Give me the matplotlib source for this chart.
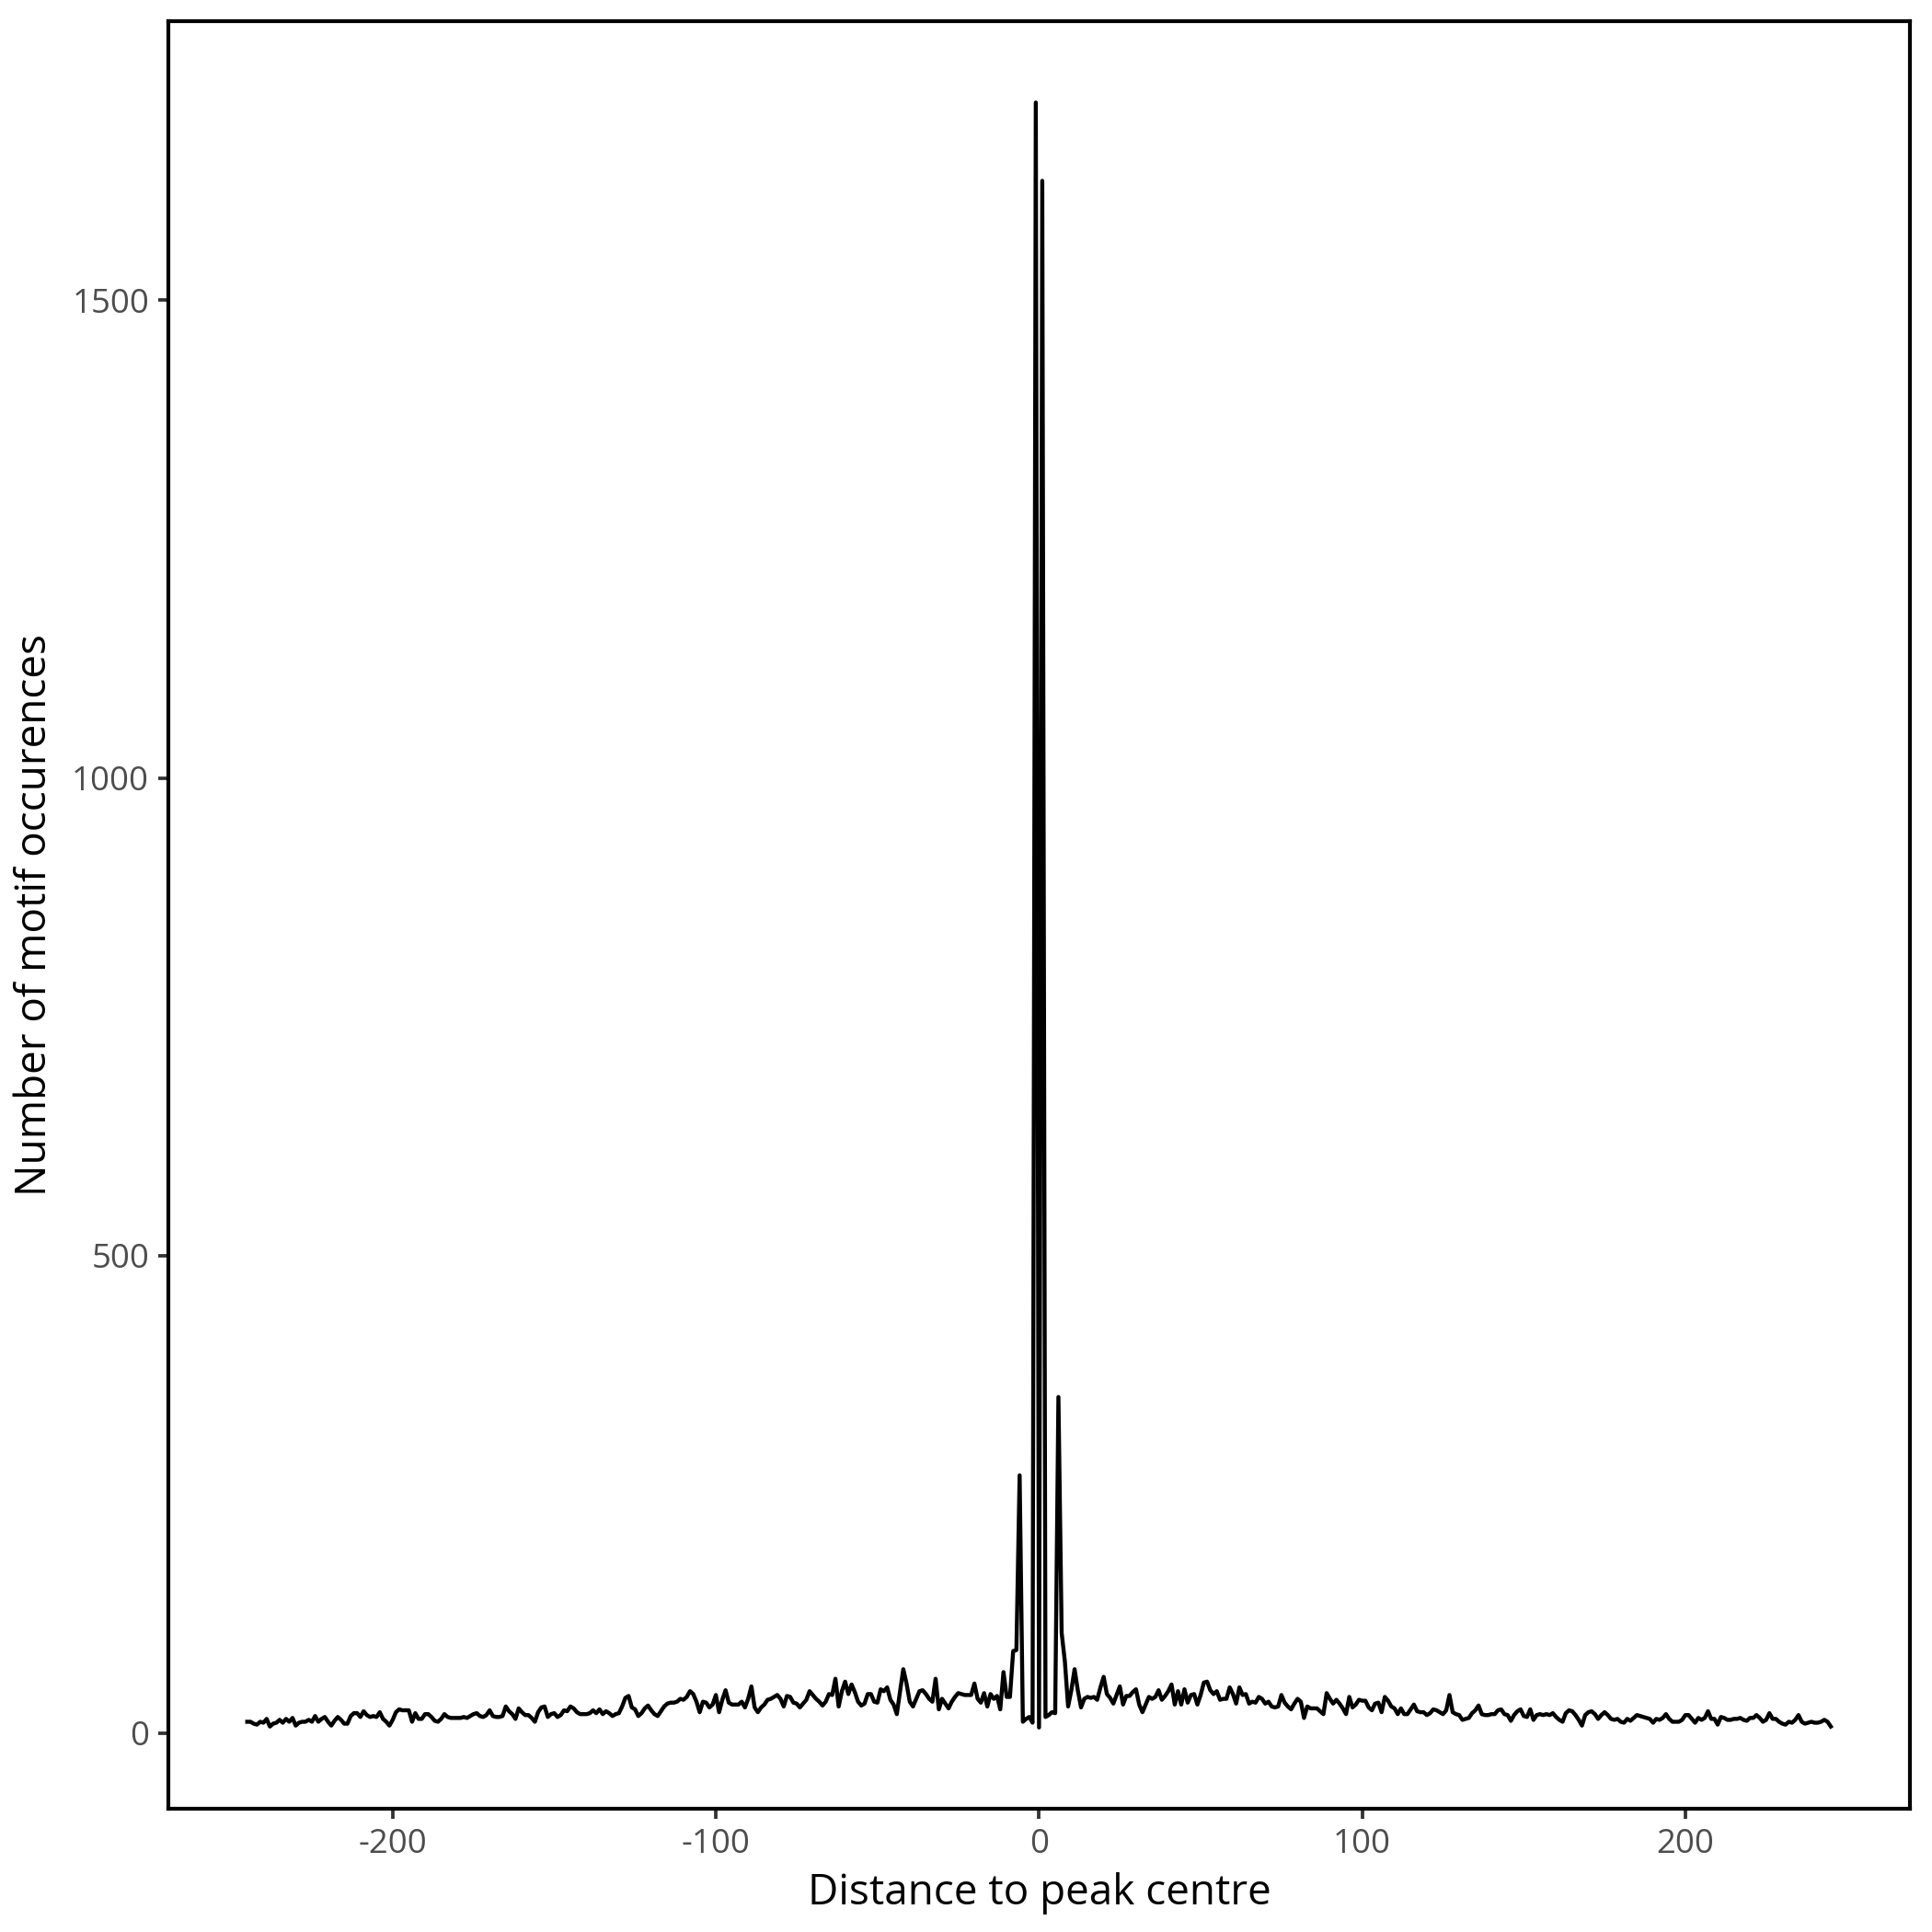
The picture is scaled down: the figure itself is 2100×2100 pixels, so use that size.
import matplotlib
matplotlib.use("Agg")
import matplotlib.pyplot as plt
import numpy as np

plt.rcParams["font.family"] = ["Open Sans", "DejaVu Sans"]
plt.rcParams["axes.unicode_minus"] = False  # reference uses plain hyphen "-200"

# ── data: motif occurrences per position relative to peak centre ──────────────
distance = np.arange(-245, 246)

counts_far_left = [  # -245 .. -163
    12, 12, 10, 9, 12, 11, 15, 7, 10, 11,
    14, 11, 15, 12, 16, 8, 11, 12, 12, 14,
    12, 18, 12, 15, 17, 12, 8, 13, 17, 14,
    10, 10, 18, 21, 21, 17, 23, 19, 17, 18,
    17, 22, 15, 12, 8, 14, 22, 25, 24, 24,
    24, 12, 21, 15, 15, 20, 20, 17, 13, 12,
    15, 20, 17, 16, 16, 16, 16, 17, 16, 18,
    20, 21, 18, 17, 19, 24, 18, 17, 17, 18,
    28, 23, 20,
]
counts_left = [  # -162 .. -80
    15, 26, 22, 19, 19, 16, 12, 22, 27, 28,
    17, 20, 21, 17, 19, 24, 23, 28, 26, 22,
    20, 20, 20, 21, 24, 21, 25, 20, 23, 21,
    18, 20, 21, 28, 37, 39, 27, 25, 18, 21,
    26, 29, 24, 20, 18, 23, 28, 31, 32, 32,
    33, 36, 35, 38, 44, 41, 33, 22, 33, 32,
    27, 30, 40, 22, 35, 45, 32, 30, 30, 30,
    33, 27, 36, 49, 27, 22, 27, 30, 35, 36,
    38, 40, 36,
]
counts_near_left = [  # -79 .. -10
    28, 39, 38, 32, 31, 27, 31, 35, 44, 40,
    36, 33, 29, 33, 41, 40, 57, 28, 44, 54,
    41, 51, 43, 33, 29, 31, 41, 41, 33, 32,
    46, 44, 48, 35, 30, 20, 44, 67, 52, 33,
    28, 36, 44, 45, 41, 36, 33, 57, 25, 36,
    31, 26, 33, 38, 42, 41, 40, 40, 40, 52,
    36, 32, 42, 28, 41, 36, 39, 25, 64, 38,
]
counts_centre = [  # -9 .. 14
    38, 86, 87, 270, 12, 15, 17, 11, 1707, 6, 1625, 17,
    19, 22, 21, 352, 105, 75, 28, 45, 67, 45, 27, 36,
]
counts_near_right = [  # 15 .. 96
    38, 37, 38, 35, 48, 59, 41, 37, 31, 40,
    49, 30, 39, 39, 43, 46, 30, 22, 30, 38,
    36, 38, 45, 35, 39, 44, 51, 30, 44, 30,
    46, 32, 40, 41, 30, 40, 53, 54, 45, 41,
    44, 35, 36, 36, 48, 41, 31, 48, 40, 41,
    31, 33, 32, 38, 36, 31, 33, 28, 27, 28,
    40, 32, 28, 25, 31, 36, 33, 16, 28, 26,
    26, 26, 23, 20, 42, 36, 31, 35, 31, 26, 20, 38,
]
counts_right = [  # 97 .. 182
    27, 30, 35, 34, 34, 27, 24, 31, 32, 22,
    38, 34, 28, 26, 20, 26, 20, 20, 25, 30,
    23, 22, 22, 19, 21, 25, 24, 22, 20, 24,
    40, 22, 20, 19, 14, 15, 16, 21, 24, 29,
    20, 19, 19, 20, 20, 24, 25, 20, 19, 13,
    19, 23, 25, 18, 17, 25, 14, 19, 20, 19,
    20, 19, 21, 17, 14, 12, 21, 24, 23, 19,
    14, 8, 19, 22, 23, 20, 15, 19, 22, 19,
    15, 14, 15, 12, 11, 15,
]
counts_far_right = [  # 183 .. 245
    13, 16, 19, 18, 17, 16, 15, 11, 15, 14,
    16, 20, 15, 12, 12, 12, 14, 19, 19, 15,
    11, 16, 14, 16, 23, 15, 15, 9, 17, 16,
    14, 14, 15, 15, 16, 14, 13, 16, 16, 19,
    16, 12, 14, 21, 15, 15, 12, 10, 9, 12,
    11, 14, 19, 12, 10, 11, 12, 11, 11, 12,
    14, 12, 7,
]

counts = (counts_far_left + counts_left + counts_near_left + counts_centre
          + counts_near_right + counts_right + counts_far_right)

x_ticks = [-200, -100, 0, 100, 200]
y_ticks = [0, 500, 1000, 1500]

# ── figure ────────────────────────────────────────────────────────────────────
fig = plt.figure(figsize=(7, 7), dpi=300)
ax = fig.add_axes([0.087, 0.0638, 0.9016, 0.9252])

ax.plot(distance, counts, color="black", linewidth=1.05, solid_joinstyle="round")

# ggplot-like 5% expansion on both axes
xr = distance.max() - distance.min()
ax.set_xlim(distance.min() - 0.05 * xr, distance.max() + 0.05 * xr)
yr = max(counts) - min(counts)
ax.set_ylim(min(counts) - 0.05 * yr, max(counts) + 0.05 * yr)

ax.set_xticks(x_ticks)
ax.set_yticks(y_ticks)
ax.tick_params(axis="both", direction="out", length=2.75, width=0.9,
               color="#333333", labelcolor="#4D4D4D", labelsize=8.8, pad=2.2)

for side in ["left", "right", "top", "bottom"]:
    ax.spines[side].set_color("black")
    ax.spines[side].set_linewidth(1.0)

ax.set_xlabel("Distance to peak centre", fontsize=11, color="black", labelpad=3)
ax.set_ylabel("Number of motif occurences", fontsize=11, color="black", labelpad=4)

fig.savefig("out.png", dpi=300, facecolor="white")
plt.close(fig)
